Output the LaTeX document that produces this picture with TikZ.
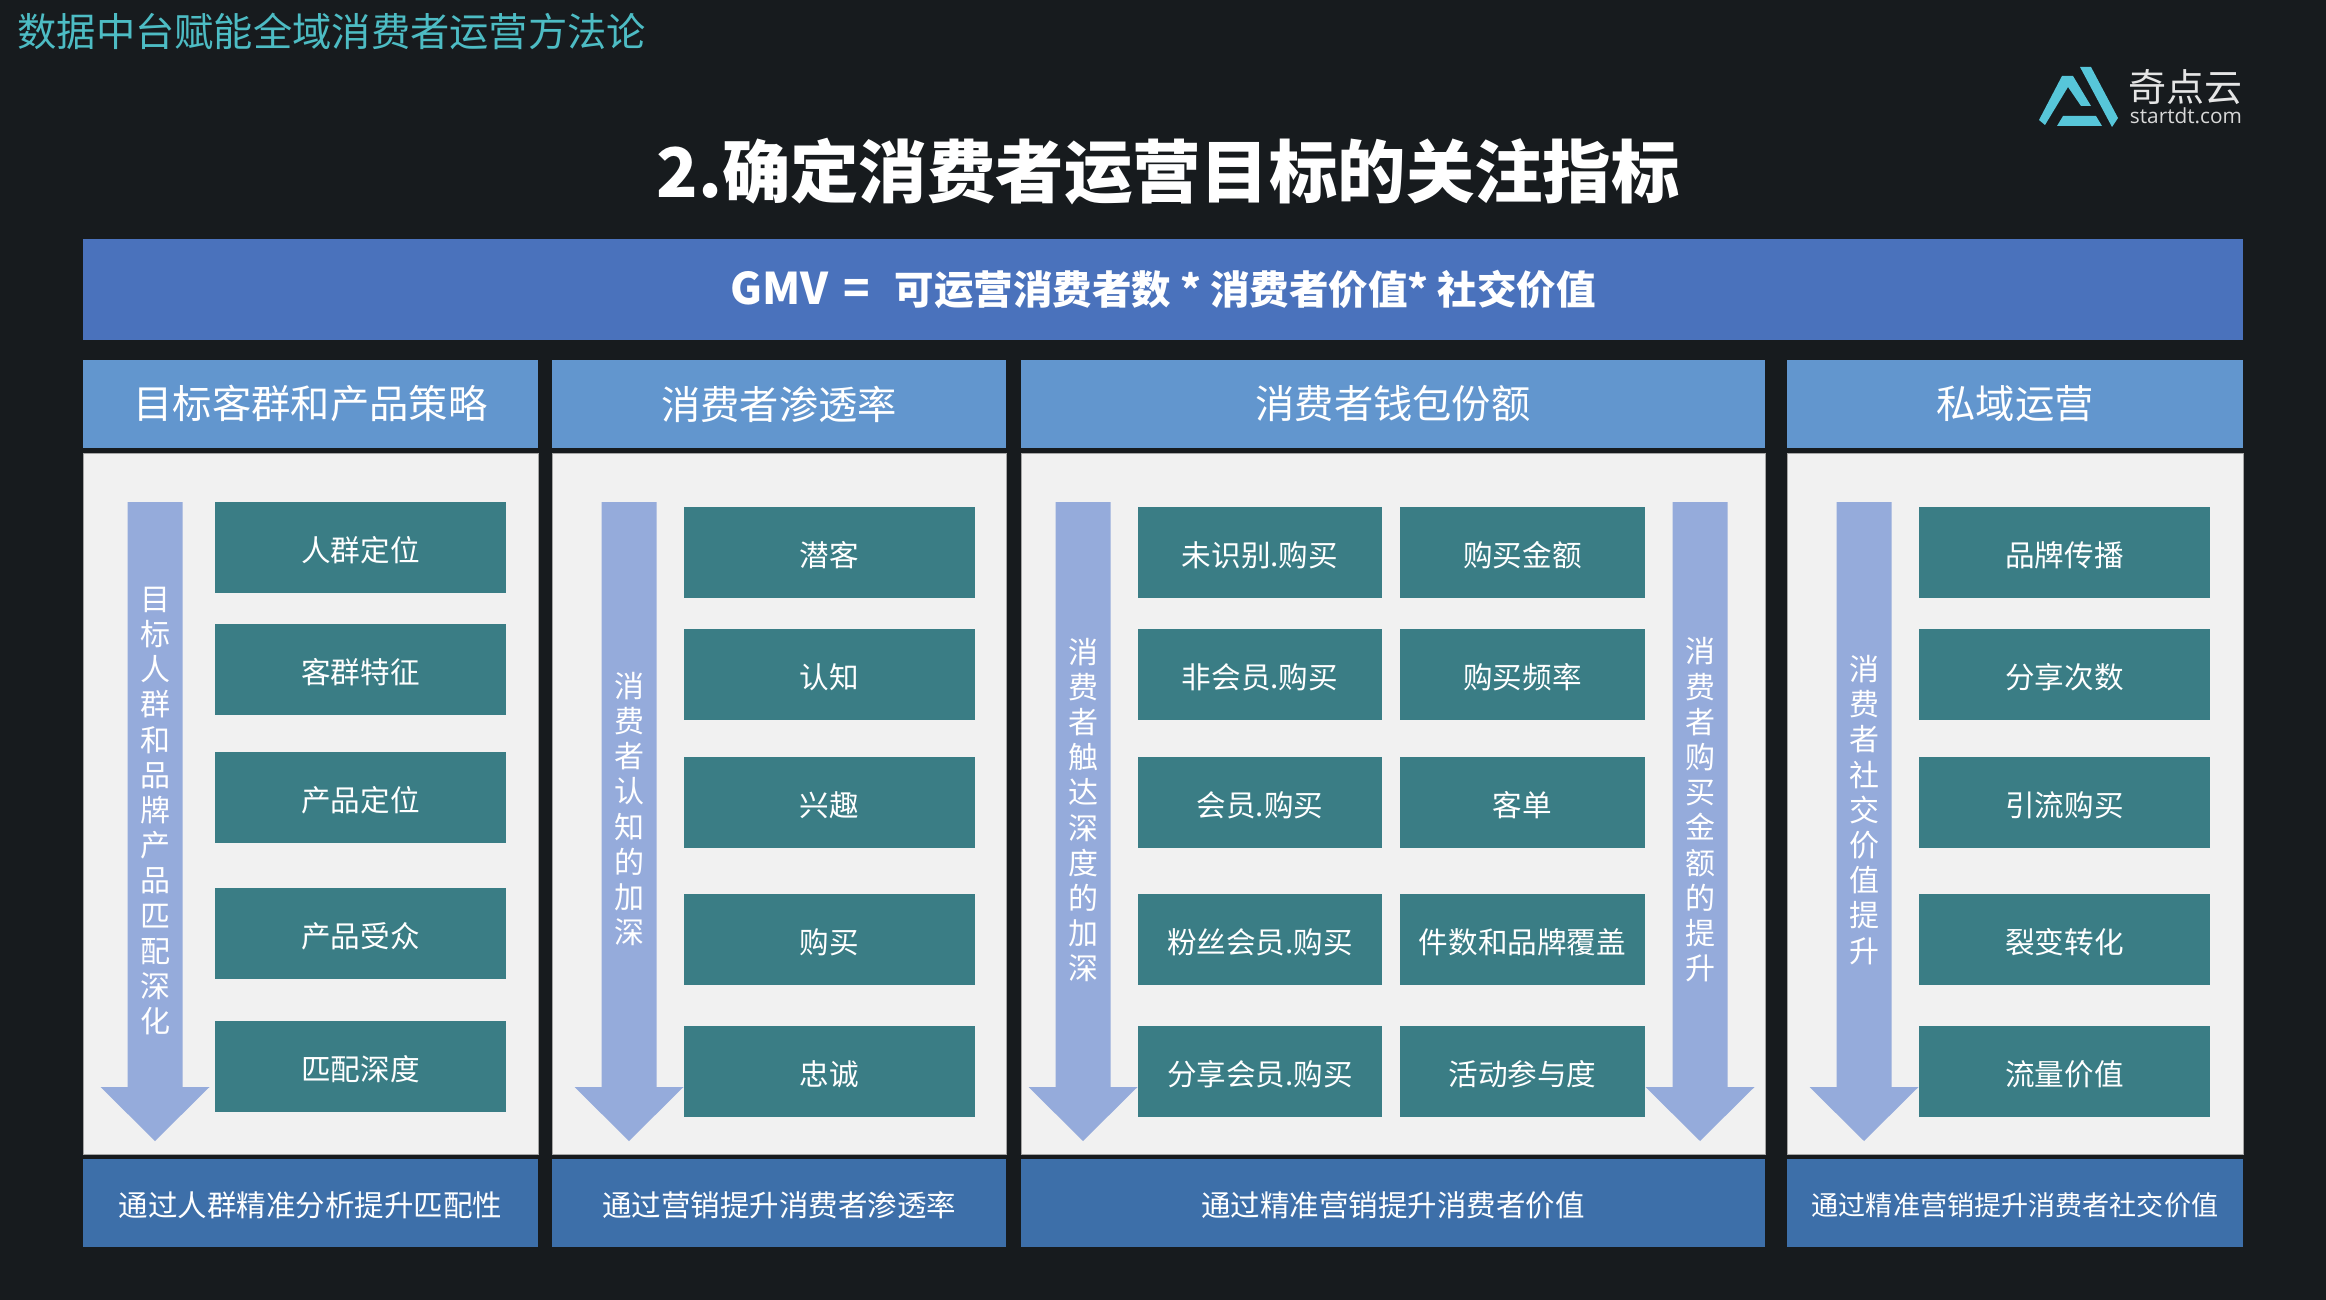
\documentclass[tikz,border=0pt]{standalone}
\usepackage{fontspec}
\setmainfont{Noto Sans CJK SC}
\newfontfamily\latn{Open Sans}
\definecolor{bgc}{HTML}{171B1E}
\definecolor{gmvc}{HTML}{4A72BC}
\definecolor{headc}{HTML}{6296CE}
\definecolor{panelc}{HTML}{F1F1F1}
\definecolor{tealc}{HTML}{3A7D85}
\definecolor{arrowc}{HTML}{95ABDB}
\definecolor{footc}{HTML}{3D6FA9}
\definecolor{logoc}{HTML}{57C6D9}
\definecolor{titlec}{HTML}{4DBCC4}
\newcommand{\fs}[1]{\fontsize{#1}{#1}\selectfont}
\tikzset{
 x=0.5pt,y=-0.5pt,
 lbl/.style={text=white,inner sep=0pt,align=center},
 gmv/.style={fill=gmvc,draw=none},
 head/.style={fill=headc,draw=none},
 panel/.style={fill=panelc,draw=gray!70,line width=0.5pt},
 foot/.style={fill=footc,draw=none},
 tbox/.style={fill=tealc,draw=none},
 downarrow/.style={fill=arrowc,draw=none},
 harr/.style={lbl,font=\fontsize{15}{17.6}\selectfont},
}
\newcommand{\rbox}[6]{\fill[#1] (#2,#3) rectangle (#4,#5); \node[lbl,font=\fs{#6}] at ({(#2+#4)/2},{(#3+#5)/2+2.5}) }
\newcommand{\rboxb}[6]{\fill[#1] (#2,#3) rectangle (#4,#5); \node[lbl,font=\fs{#6}] at ({(#2+#4)/2},{(#3+#5)/2}) }
\newcommand{\darr}[4]{% cx, top, textcentre, text
 \fill[downarrow] ({#1-27.5},#2) -- ({#1+27.5},#2) -- ({#1+27.5},1087) -- ({#1+54.5},1087) -- (#1,1141) -- ({#1-54.5},1087) -- ({#1-27.5},1087) -- cycle;
 \node[harr] at (#1,#3) {#4};}
\begin{document}
\begin{tikzpicture}
\fill[bgc] (0,0) rectangle (2326,1300);
\useasboundingbox (0,0) rectangle (2326,1300);
\node[inner sep=0pt,anchor=west,text=titlec,font=\fs{19.65}] (toptitle) at (17,31) {数据中台赋能全域消费者运营方法论};
\node[inner sep=0pt,text=white,font=\fs{34.2}\bfseries] (maintitle) at (1168,172) {2.确定消费者运营目标的关注指标};
% logo
\fill[logoc] (2039,120) -- (2062,76) -- (2073,76) -- (2091,106) -- (2081,106) -- (2068,87) -- (2045,125) -- cycle;
\fill[logoc] (2080,67) -- (2091,67) -- (2118,118) -- (2112,127) -- cycle;
\fill[logoc] (2057,126) -- (2063,116) -- (2096,116) -- (2102,126) -- cycle;
\node[inner sep=0pt,text=white!90!black,font=\fs{19}] (logocn) at (2185,87) {奇点云};
\node[inner sep=0pt,text=white!85!black,font=\latn\fs{10.4}] (logoen) at (2186,116) {startdt.com};
% gmv
\rboxb{gmv}{83}{239}{2243}{340}{19.75}(gmvtext){\bfseries {\fontsize{21.8}{21.8}\selectfont GMV\hspace{7.5pt}=}\hspace{12.5pt}可运营消费者数 * 消费者价值* 社交价值};
% headers
\rboxb{head}{83}{360}{538}{448}{19.65}(h1){目标客群和产品策略};
\rboxb{head}{552}{360}{1006}{448}{19.65}(h2){消费者渗透率};
\rboxb{head}{1021}{360}{1765}{448}{19.65}(h3){消费者钱包份额};
\rboxb{head}{1787}{360}{2243}{448}{19.65}(h4){私域运营};
% panels
\draw[panel] (83,454) rectangle (538,1154);
\draw[panel] (552,454) rectangle (1006,1154);
\draw[panel] (1021,454) rectangle (1765,1154);
\draw[panel] (1787,454) rectangle (2243,1154);
% footers
\rbox{foot}{83}{1159}{538}{1247}{14.75}(f1){通过人群精准分析提升匹配性};
\rbox{foot}{552}{1159}{1006}{1247}{14.75}(f2){通过营销提升消费者渗透率};
\rbox{foot}{1021}{1159}{1765}{1247}{14.75}(f3){通过精准营销提升消费者价值};
\rbox{foot}{1787}{1159}{2243}{1247}{13.55}(f4){通过精准营销提升消费者社交价值};
% arrows
\darr{155}{502}{811}{目\\标\\人\\群\\和\\品\\牌\\产\\品\\匹\\配\\深\\化}
\darr{629}{502}{809}{消\\费\\者\\认\\知\\的\\加\\深}
\darr{1083}{502}{810}{消\\费\\者\\触\\达\\深\\度\\的\\加\\深}
\darr{1700}{502}{810}{消\\费\\者\\购\\买\\金\\额\\的\\提\\升}
\darr{1864}{502}{810}{消\\费\\者\\社\\交\\价\\值\\提\\升}
% col 1
\rbox{tbox}{215}{502}{506}{593}{14.8}(a1){人群定位};
\rbox{tbox}{215}{624}{506}{715}{14.8}(a2){客群特征};
\rbox{tbox}{215}{752}{506}{843}{14.8}(a3){产品定位};
\rbox{tbox}{215}{888}{506}{979}{14.8}(a4){产品受众};
\rbox{tbox}{215}{1021}{506}{1112}{14.8}(a5){匹配深度};
% col 2
\rbox{tbox}{684}{507}{975}{598}{14.8}(b1){潜客};
\rbox{tbox}{684}{629}{975}{720}{14.8}(b2){认知};
\rbox{tbox}{684}{757}{975}{848}{14.8}(b3){兴趣};
\rbox{tbox}{684}{894}{975}{985}{14.8}(b4){购买};
\rbox{tbox}{684}{1026}{975}{1117}{14.8}(b5){忠诚};
% col 3
\rbox{tbox}{1138}{507}{1382}{598}{14.8}(c1){未识别.购买};
\rbox{tbox}{1138}{629}{1382}{720}{14.8}(c2){非会员.购买};
\rbox{tbox}{1138}{757}{1382}{848}{14.8}(c3){会员.购买};
\rbox{tbox}{1138}{894}{1382}{985}{14.8}(c4){粉丝会员.购买};
\rbox{tbox}{1138}{1026}{1382}{1117}{14.8}(c5){分享会员.购买};
\rbox{tbox}{1400}{507}{1645}{598}{14.8}(d1){购买金额};
\rbox{tbox}{1400}{629}{1645}{720}{14.8}(d2){购买频率};
\rbox{tbox}{1400}{757}{1645}{848}{14.8}(d3){客单};
\rbox{tbox}{1400}{894}{1645}{985}{14.8}(d4){件数和品牌覆盖};
\rbox{tbox}{1400}{1026}{1645}{1117}{14.8}(d5){活动参与度};
% col 4
\rbox{tbox}{1919}{507}{2210}{598}{14.8}(e1){品牌传播};
\rbox{tbox}{1919}{629}{2210}{720}{14.8}(e2){分享次数};
\rbox{tbox}{1919}{757}{2210}{848}{14.8}(e3){引流购买};
\rbox{tbox}{1919}{894}{2210}{985}{14.8}(e4){裂变转化};
\rbox{tbox}{1919}{1026}{2210}{1117}{14.8}(e5){流量价值};
\end{tikzpicture}
\end{document}
